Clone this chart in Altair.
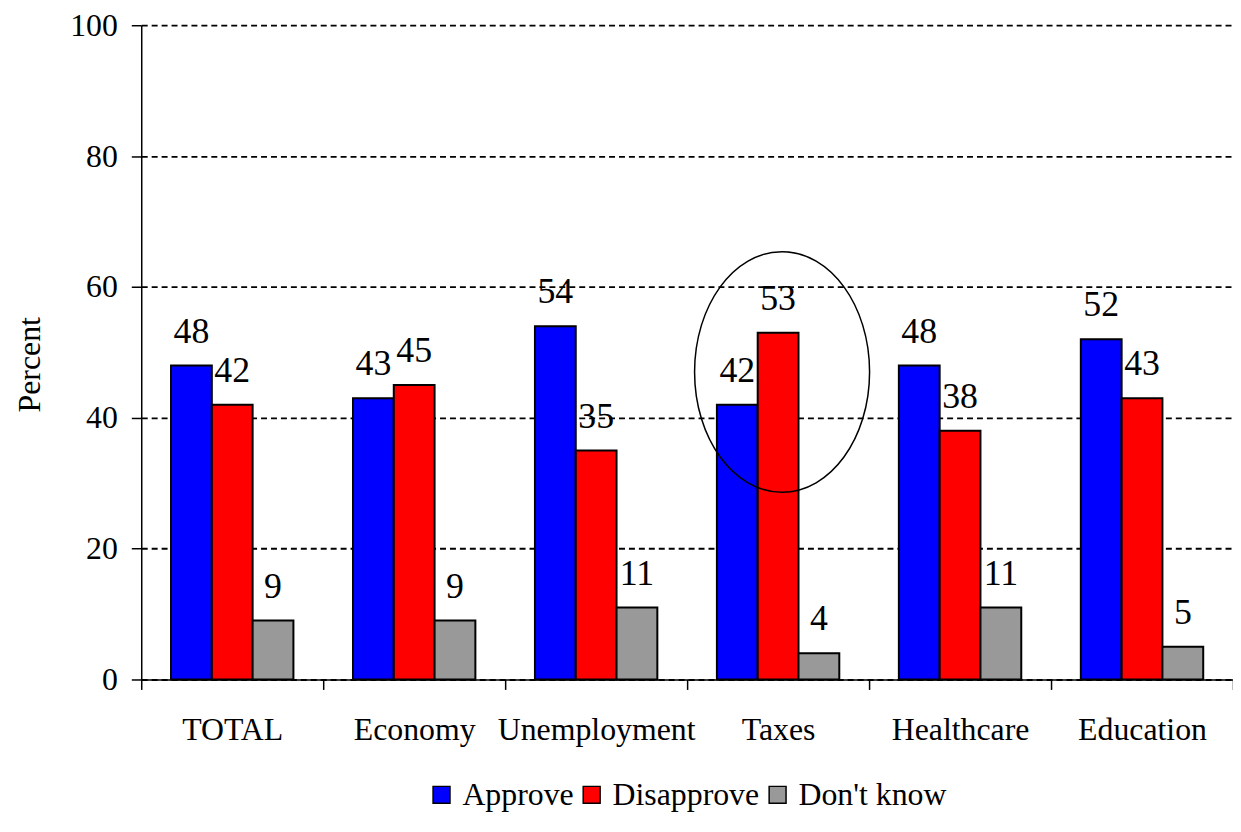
import altair as alt
import pandas as pd

categories = ["TOTAL", "Economy", "Unemployment", "Taxes", "Healthcare", "Education"]
series = ["Approve", "Disapprove", "Don't know"]
approve = [48, 43, 54, 42, 48, 52]
disapprove = [42, 45, 35, 53, 38, 43]
dont_know = [9, 9, 11, 4, 11, 5]
colors = ["#0000FF", "#FF0000", "#999999"]
y_ticks = [0, 20, 40, 60, 80, 100]

# annotation ellipse around Taxes
highlight_cat = ["Taxes"]
highlight_y = [47]

rows = []
for i, c in enumerate(categories):
    for s, vals in zip(series, [approve, disapprove, dont_know]):
        rows.append({"category": c, "series": s, "value": vals[i]})
df = pd.DataFrame(rows)
hl = pd.DataFrame({"category": highlight_cat, "y": highlight_y})

FONT = "Liberation Serif"

x = alt.X("category:N", sort=categories, title=None,
          scale=alt.Scale(paddingInner=0, paddingOuter=0),
          axis=alt.Axis(labelAngle=0, labelFont=FONT, labelFontSize=32, labelColor="black",
                        labelPadding=25, labelLimit=0, tickSize=10, tickColor="black", tickWidth=1.5,
                        domainColor="black", domainWidth=1.5, tickBand="extent", grid=False))
xo = alt.XOffset("series:N", sort=series, scale=alt.Scale(paddingOuter=0.73, paddingInner=0))
y = alt.Y("value:Q", title="Percent",
          scale=alt.Scale(domain=[0, 100], nice=False),
          axis=alt.Axis(values=y_ticks, labelFont=FONT, labelFontSize=32, labelColor="black",
                        labelPadding=14, tickSize=10, tickColor="black", tickWidth=1.5,
                        domainColor="black", domainWidth=1.5,
                        grid=True, gridColor="black", gridDash=[6, 4], gridWidth=1.8,
                        titleFont=FONT, titleFontSize=32, titleFontWeight="normal",
                        titleColor="black", titleAngle=270, titleX=-112, titleY=341,
                        titleAlign="center", titleBaseline="middle"))

bars = alt.Chart(df).mark_bar(stroke="black", strokeWidth=2).encode(
    x=x, xOffset=xo, y=y,
    color=alt.Color("series:N", sort=series,
                    scale=alt.Scale(domain=series, range=colors),
                    legend=alt.Legend(title=None, orient="none", direction="horizontal",
                                      legendX=286, legendY=758,
                                      labelFont=FONT, labelFontSize=32, labelColor="black",
                                      symbolType="square", symbolSize=289,
                                      symbolStrokeColor="black", symbolStrokeWidth=1.5,
                                      symbolOpacity=1, labelLimit=0,
                                      labelOffset=5, columnPadding=2)),
)

labels = alt.Chart(df).mark_text(font=FONT, fontSize=36, color="black",
                                 baseline="alphabetic", dy=-23).encode(
    x=alt.X("category:N", sort=categories),
    xOffset=alt.XOffset("series:N", sort=series),
    y=alt.Y("value:Q"),
    text=alt.Text("value:Q"),
)

ellipse = alt.Chart(hl).mark_point(
    shape="M-1,0 A1,1.375 0 1,1 1,0 A1,1.375 0 1,1 -1,0 Z",
    size=30976, filled=False, stroke="black", strokeWidth=1.5, opacity=1, xOffset=4,
).encode(
    x=alt.X("category:N", sort=categories),
    y=alt.Y("y:Q"),
)

chart = alt.layer(bars, labels, ellipse).properties(
    width=1098, height=658,
    autosize=alt.AutoSizeParams(type="none"),
    padding={"left": 134, "top": 15, "right": 0, "bottom": 140},
).configure(background="white", font=FONT).configure_view(stroke=None).configure_text(
    font=FONT).configure_legend(labelFont=FONT).configure_axis(labelFont=FONT, titleFont=FONT)

chart.save("out.html", embed_options={"renderer": "svg", "actions": False})
